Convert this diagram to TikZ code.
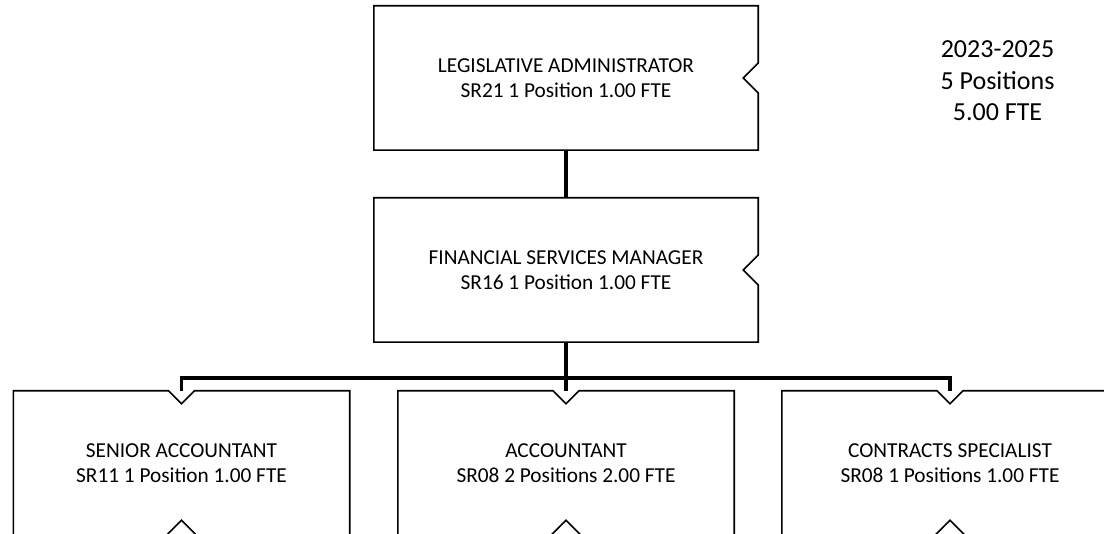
\documentclass[tikz,border=0pt]{standalone}
\usepackage{fontspec}
\setmainfont{Carlito}
\newcommand\rnotchoutline[1]{%
  \draw[outline] (#1.north west) -- (#1.north east) -- ([yshift=15pt]#1.east)
    -- ([xshift=-15pt]#1.east) -- ([yshift=-15pt]#1.east) -- (#1.south east)
    -- (#1.south west) -- cycle;}
\newcommand\tbnotchoutline[1]{%
  \draw[outline] (#1.north west) -- ([xshift=-13pt]#1.north) -- ([yshift=-13pt]#1.north)
    -- ([xshift=13pt]#1.north) -- (#1.north east) -- (#1.south east)
    -- ([xshift=15pt]#1.south) -- ([yshift=15pt]#1.south) -- ([xshift=-15pt]#1.south)
    -- (#1.south west) -- cycle;}
\begin{document}
\begin{tikzpicture}[x=1pt,y=-1pt,
  boxtext/.style={inner sep=0pt, align=center, font=\fontsize{21.3}{24.5}\selectfont},
  topbox/.style={boxtext, minimum width=384pt, minimum height=144pt},
  lowbox/.style={boxtext, minimum width=336pt, minimum height=144pt},
  outline/.style={draw=black, line width=1.6pt, line join=miter},
  conn/.style={draw=black, line width=3.5pt, line join=miter},
  totals/.style={inner sep=0pt, align=center, font=\fontsize{26}{31.5}\selectfont}]
\clip (0,0) rectangle (1104,534);
\fill[white] (0,0) rectangle (1104,534);

\node[topbox] (la) at (566,78) {LEGISLATIVE ADMINISTRATOR\\SR21 1 Position 1.00 FTE};
\node[topbox] (fm) at (566,270) {FINANCIAL SERVICES MANAGER\\SR16 1 Position 1.00 FTE};
\node[lowbox] (sa) at (181.5,463) {SENIOR ACCOUNTANT\\SR11 1 Position 1.00 FTE};
\node[lowbox] (ac) at (566,463) {ACCOUNTANT\\SR08 2 Positions 2.00 FTE};
\node[lowbox] (cs) at (950,463) {CONTRACTS SPECIALIST\\SR08 1 Positions 1.00 FTE};
\node[totals, anchor=north] (tot) at (997.5,40.5) {2023-2025\\5 Positions\\5.00 FTE};

\rnotchoutline{la}
\rnotchoutline{fm}
\tbnotchoutline{sa}
\tbnotchoutline{ac}
\tbnotchoutline{cs}

\coordinate (bus) at (566,378);
\draw[conn] (la.south) -- (fm.north);
\draw[conn] (fm.south) -- (ac.north);
\draw[conn] (sa.north) -- (sa.north |- bus) -- (cs.north |- bus) -- (cs.north);
\end{tikzpicture}
\end{document}
